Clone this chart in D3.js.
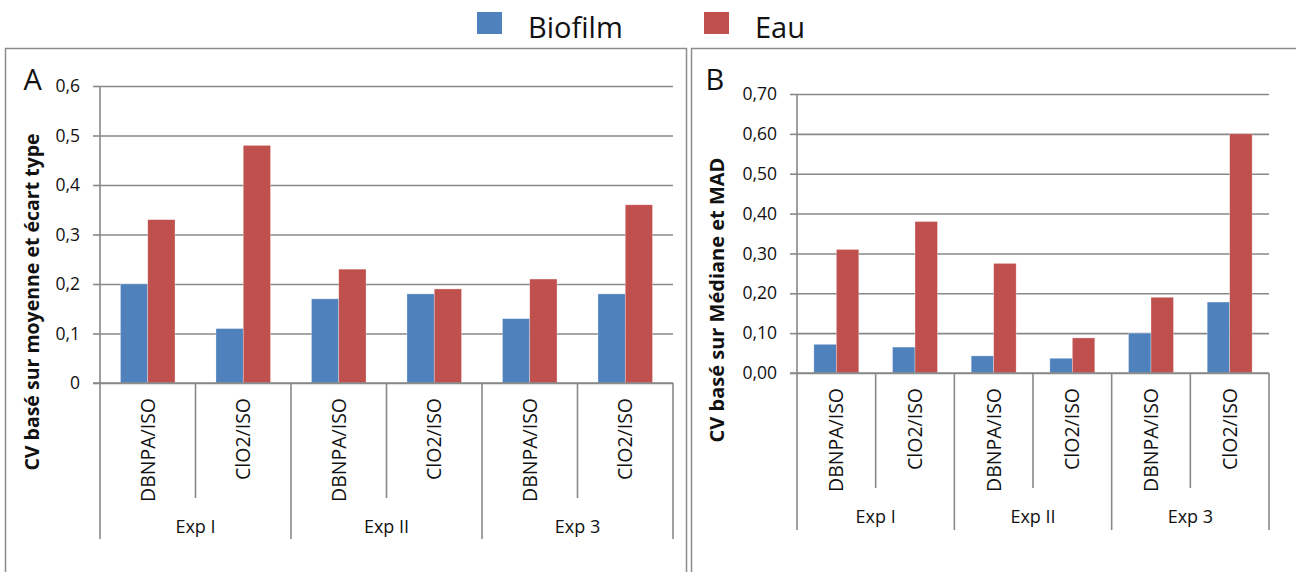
<!DOCTYPE html>
<html>
<head>
<meta charset="utf-8">
<script src="https://cdn.jsdelivr.net/npm/d3@7/dist/d3.min.js"></script>
<style>
  html, body { margin: 0; padding: 0; background: #fff; }
  svg { display: block; font-family: "Open Sans", "Noto Sans", sans-serif; }
</style>
</head>
<body>
<svg id="chart" width="1296" height="572"></svg>
<script>
// Coefficient of variation per treatment and experiment
const categories = ["DBNPA/ISO", "ClO2/ISO", "DBNPA/ISO", "ClO2/ISO", "DBNPA/ISO", "ClO2/ISO"];
const groups = ["Exp I", "Exp II", "Exp 3"];
const seriesNames = ["Biofilm", "Eau"];
const seriesColors = ["#4F81BD", "#C0504D"];

// Panel A: CV from mean and standard deviation
const biofilmA = [0.20, 0.11, 0.17, 0.18, 0.13, 0.18];
const eauA = [0.33, 0.48, 0.23, 0.19, 0.21, 0.36];
const ticksA = [0, 0.1, 0.2, 0.3, 0.4, 0.5, 0.6];
const tickLabelsA = ["0", "0,1", "0,2", "0,3", "0,4", "0,5", "0,6"];

// Panel B: CV from median and MAD
const biofilmB = [0.072, 0.065, 0.043, 0.037, 0.100, 0.178];
const eauB = [0.310, 0.380, 0.275, 0.088, 0.190, 0.600];
const ticksB = [0, 0.1, 0.2, 0.3, 0.4, 0.5, 0.6, 0.7];
const tickLabelsB = ["0,00", "0,10", "0,20", "0,30", "0,40", "0,50", "0,60", "0,70"];

const svg = d3.select("#chart");
const gridColor = "#888888";

// Legend across the top
const legendX = [477, 704];
seriesNames.forEach((name, i) => {
  svg.append("rect").attr("x", legendX[i]).attr("y", 12).attr("width", 25).attr("height", 22)
    .attr("fill", seriesColors[i]);
  svg.append("text").attr("x", legendX[i] + 51).attr("y", 38)
    .attr("font-size", 29).attr("fill", "#111").text(name);
});

function drawPanel(p) {
  // frame
  svg.append("rect").attr("x", p.frame[0]).attr("y", 48.5)
    .attr("width", p.frame[1]).attr("height", 600)
    .attr("fill", "none").attr("stroke", "#8c8c8c").attr("stroke-width", 1.5);

  svg.append("text").attr("x", p.frame[0] + p.letterDx).attr("y", 90)
    .attr("font-size", 29).attr("fill", "#111").text(p.letter);

  const g = svg.append("g").attr("transform", `translate(${p.left},${p.top})`);
  const w = p.right - p.left, h = p.bottom - p.top;

  const y = d3.scaleLinear().domain([0, p.max]).range([h, 0]);
  const x0 = d3.scaleBand().domain(d3.range(categories.length)).range([0, w]).padding(0);
  const x1 = d3.scaleBand().domain(d3.range(seriesNames.length))
    .range([0, x0.bandwidth()]).paddingInner(0).paddingOuter(0.75);

  // gridlines
  g.append("g").call(d3.axisLeft(y).tickValues(p.ticks).tickSize(-w).tickFormat(""))
    .call(s => s.select(".domain").remove())
    .call(s => s.selectAll("line").attr("stroke", gridColor).attr("stroke-width", 1.6));

  // value axis: ticks and labels
  g.append("g").call(d3.axisLeft(y).tickValues(p.ticks).tickSize(7).tickPadding(13)
      .tickFormat((d, i) => p.tickLabels[i]))
    .call(s => s.select(".domain").remove())
    .call(s => s.selectAll("line").attr("stroke", gridColor).attr("stroke-width", 1.6))
    .call(s => s.selectAll("text").attr("font-size", 17.5).attr("fill", "#111")
      .attr("font-family", "'Open Sans', sans-serif"));

  // bars
  const values = [p.biofilm, p.eau];
  categories.forEach((c, i) => {
    values.forEach((vals, k) => {
      g.append("rect")
        .attr("x", x0(i) + x1(k)).attr("width", x1.bandwidth())
        .attr("y", y(vals[i])).attr("height", h - y(vals[i]))
        .attr("fill", seriesColors[k])
        .attr("stroke", "#ffffff").attr("stroke-opacity", 0.5).attr("stroke-width", 0.6);
    });
  });

  // axis lines
  g.append("line").attr("x1", 0).attr("x2", 0).attr("y1", 0).attr("y2", h)
    .attr("stroke", gridColor).attr("stroke-width", 1.6);
  g.append("line").attr("x1", -7).attr("x2", w).attr("y1", h).attr("y2", h)
    .attr("stroke", gridColor).attr("stroke-width", 1.6);

  // category separators: short ones inside an experiment, long ones at experiment edges
  const per = categories.length / groups.length;
  d3.range(categories.length + 1).forEach(i => {
    const xx = i === categories.length ? w : x0(i);
    const long = i % per === 0;
    g.append("line").attr("x1", xx).attr("x2", xx).attr("y1", h)
      .attr("y2", h + (long ? p.longTick : p.shortTick))
      .attr("stroke", gridColor).attr("stroke-width", 1.6);
  });

  // rotated category labels
  categories.forEach((c, i) => {
    const cx = x0(i) + x0.bandwidth() / 2;
    g.append("text")
      .attr("transform", `translate(${cx + 7},${h + 15}) rotate(-90)`)
      .attr("text-anchor", "end").attr("font-size", 19.5).attr("fill", "#111").text(c);
  });

  // experiment labels
  groups.forEach((gName, j) => {
    const gx = x0(j * per) + x0.bandwidth() * per / 2;
    g.append("text").attr("x", gx).attr("y", h + p.groupY)
      .attr("text-anchor", "middle").attr("font-size", 18).attr("fill", "#111").text(gName);
  });

  // value axis title
  svg.append("text")
    .attr("transform", `translate(${p.titleX},${p.titleY}) rotate(-90)`)
    .attr("text-anchor", "middle").attr("font-size", p.titleSize).attr("font-weight", "bold")
    .attr("fill", "#111").text(p.title);
}

drawPanel({
  frame: [5.5, 681], letter: "A", letterDx: 18,
  left: 100, right: 673, top: 86, bottom: 383, max: 0.6,
  ticks: ticksA, tickLabels: tickLabelsA, biofilm: biofilmA, eau: eauA,
  shortTick: 115, longTick: 156, groupY: 150,
  title: "CV basé sur moyenne et écart type", titleX: 39, titleY: 302, titleSize: 19.5
});

drawPanel({
  frame: [691.5, 620], letter: "B", letterDx: 14,
  left: 797, right: 1269, top: 94, bottom: 373, max: 0.7,
  ticks: ticksB, tickLabels: tickLabelsB, biofilm: biofilmB, eau: eauB,
  shortTick: 115, longTick: 157, groupY: 150,
  title: "CV basé sur Médiane et MAD", titleX: 724, titleY: 300, titleSize: 20
});
</script>
</body>
</html>
